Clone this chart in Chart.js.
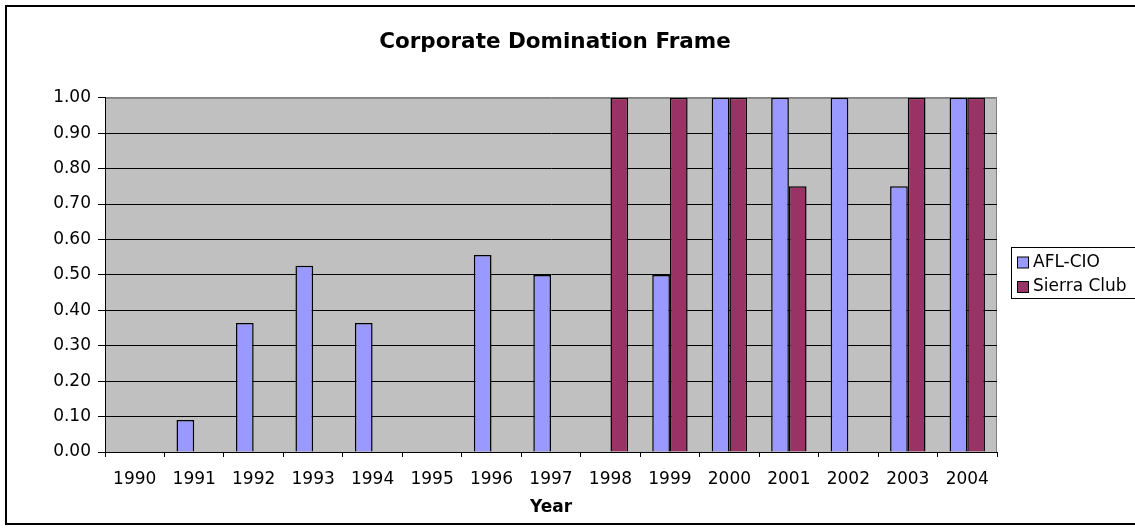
<!DOCTYPE html>
<html>
<head>
<meta charset="utf-8">
<script src="https://cdn.jsdelivr.net/npm/chart.js@4/dist/chart.umd.min.js"></script>
<style>
  body { margin: 0; background: #fff; }
  #wrap { width: 1135px; height: 531px; }
</style>
</head>
<body>
<div id="wrap"><canvas id="ctx-frame"></canvas></div>
<script>
const years = ['1990', '1991', '1992', '1993', '1994', '1995', '1996', '1997',
               '1998', '1999', '2000', '2001', '2002', '2003', '2004'];
const aflCio = [null, 0.09, 0.364, 0.526, 0.364, null, 0.556, 0.5,
                null, 0.5, 1, 1, 1, 0.75, 1];
const sierraClub = [null, null, null, null, null, null, null, null,
                    1, 1, 1, 0.75, null, 1, 1];
const seriesNames = ['AFL-CIO', 'Sierra Club'];
const colors = ['#9999FF', '#993366'];

const fontFamily = "'DejaVu Sans', Verdana, sans-serif";

// white page, outer frame and grey plot area
const frame = {
    id: 'frame',
    beforeDraw(chart) {
        const c = chart.ctx;
        const a = chart.chartArea;
        c.save();
        c.fillStyle = '#fff';
        c.fillRect(0, 0, chart.width, chart.height);
        c.strokeStyle = '#000';
        c.lineWidth = 2;
        c.strokeRect(6, 6, chart.width + 10, 518);
        c.fillStyle = '#C0C0C0';
        c.fillRect(a.left, a.top, a.right - a.left, a.bottom - a.top);
        c.strokeStyle = '#808080';
        c.lineWidth = 1;
        c.beginPath();
        c.moveTo(a.left, a.top + 0.5);
        c.lineTo(a.right - 0.5, a.top + 0.5);
        c.lineTo(a.right - 0.5, a.bottom);
        c.stroke();
        c.restore();
    }
};

// Excel style legend box on the right
const boxLegend = {
    id: 'boxLegend',
    afterDraw(chart) {
        const c = chart.ctx;
        c.save();
        c.strokeStyle = '#000';
        c.lineWidth = 1;
        c.strokeRect(1011.5, 247.5, 140, 51);
        c.font = '17px ' + fontFamily;
        c.textBaseline = 'middle';
        chart.data.datasets.forEach((ds, i) => {
            const y = 262.5 + i * 24.5;
            c.fillStyle = ds.backgroundColor;
            c.fillRect(1017.5, y - 5.5, 11, 11);
            c.strokeRect(1017.5, y - 5.5, 11, 11);
            c.fillStyle = '#000';
            c.fillText(ds.label, 1033, y);
        });
        c.restore();
    }
};

const ctx = document.getElementById('ctx-frame');

new Chart(ctx, {
    type: 'bar',
    data: {
        labels: years,
        datasets: [
            { label: seriesNames[0], data: aflCio, backgroundColor: colors[0] },
            { label: seriesNames[1], data: sierraClub, backgroundColor: colors[1] }
        ]
    },
    options: {
        responsive: true,
        maintainAspectRatio: false,
        animation: false,
        layout: { padding: { left: 0, right: 25, top: 0, bottom: 0 } },
        datasets: {
            bar: {
                borderColor: '#000',
                borderWidth: 1.5,
                categoryPercentage: 0.595,
                barPercentage: 1
            }
        },
        plugins: {
            legend: { display: false },
            tooltip: { enabled: false },
            title: {
                display: true,
                text: 'Corporate Domination Frame',
                color: '#000',
                font: { family: fontFamily, size: 21.5, weight: 'bold' },
                padding: { top: 30, bottom: 42 }
            }
        },
        scales: {
            x: {
                grid: {
                    drawOnChartArea: false,
                    drawTicks: true,
                    tickLength: 5,
                    color: '#000',
                    offset: true
                },
                border: { color: '#000', width: 1 },
                ticks: {
                    color: '#000',
                    maxRotation: 0,
                    autoSkip: false,
                    padding: 12,
                    font: { family: fontFamily, size: 17 }
                },
                title: {
                    display: true,
                    text: 'Year',
                    color: '#000',
                    font: { family: fontFamily, size: 17, weight: 'bold' },
                    padding: { top: 0, bottom: 13 }
                },
                afterFit(scale) { scale.height = 79; }
            },
            y: {
                min: 0,
                max: 1,
                grid: {
                    color: (c) => (c.tick && c.tick.value === 1 ? '#808080' : '#000'),
                    tickColor: '#000',
                    tickLength: 7
                },
                border: { color: '#000', width: 1 },
                ticks: {
                    stepSize: 0.1,
                    color: '#000',
                    padding: 7,
                    font: { family: fontFamily, size: 17 },
                    callback: (v) => Number(v).toFixed(2)
                },
                afterFit(scale) { scale.width = 105; }
            },
            // empty axis on the right, keeps room for the legend box
            legendRoom: {
                position: 'right',
                grid: { display: false },
                border: { display: false },
                ticks: { display: false },
                afterFit(scale) { scale.width = 113; }
            }
        }
    },
    plugins: [frame, boxLegend]
});
</script>
</body>
</html>
